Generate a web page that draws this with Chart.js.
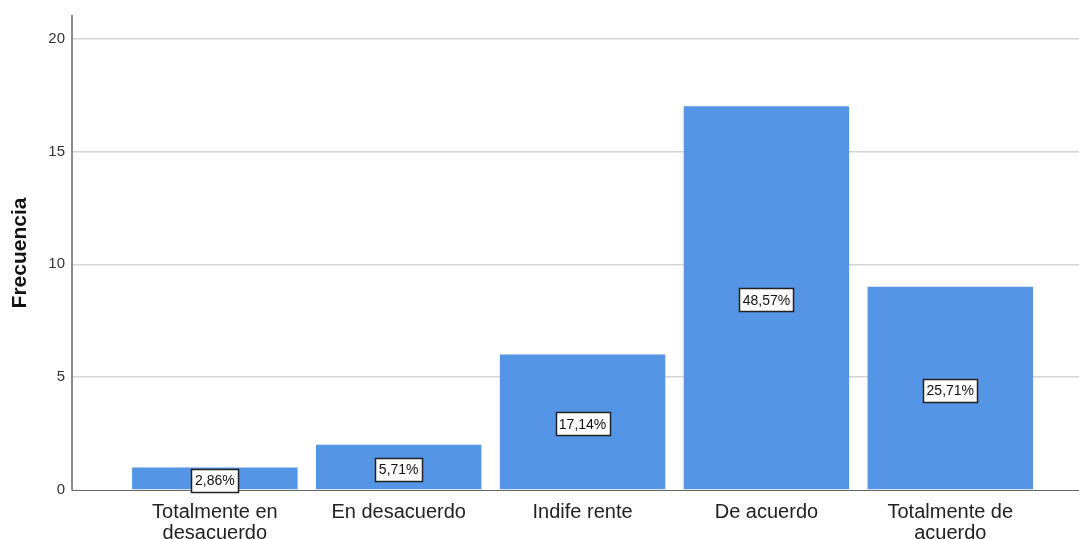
<!DOCTYPE html>
<html lang="es">
<head>
    <meta charset="UTF-8">
    <title>Frecuencia</title>
    <script src="https://cdn.jsdelivr.net/npm/chart.js"></script>
    <style>
        body { margin: 0; background: #fff; }
        .chart-box { width: 1079px; height: 539px; }
    </style>
</head>
<body>
    <div class="chart-box"><canvas id="barChart"></canvas></div>

    <script>
        // Datos
        const categorias = [['Totalmente en', 'desacuerdo'], 'En desacuerdo', 'Indife rente', 'De acuerdo', ['Totalmente de', 'acuerdo']];
        const frecuencias = [1, 2, 6, 17, 9];
        const porcentajes = ['2,86%', '5,71%', '17,14%', '48,57%', '25,71%'];
        const ticksY = [0, 5, 10, 15, 20];

        const fuente = 'Arial, "Liberation Sans", sans-serif';

        // Etiquetas de porcentaje dentro de las barras
        const etiquetasPlugin = {
            id: 'etiquetas',
            afterDatasetsDraw(chart) {
                const ctx = chart.ctx;
                const meta = chart.getDatasetMeta(0);
                ctx.save();
                ctx.font = '14px ' + fuente;
                ctx.textAlign = 'center';
                ctx.textBaseline = 'middle';
                meta.data.forEach((bar, i) => {
                    const txt = porcentajes[i];
                    const cx = bar.x;
                    const cy = (bar.y + bar.base) / 2 + 2;
                    const w = Math.round(ctx.measureText(txt).width + 7);
                    const h = 23;
                    const x0 = Math.round(cx - w / 2);
                    const y0 = Math.round(cy - h / 2);
                    ctx.fillStyle = '#ffffff';
                    ctx.fillRect(x0, y0, w, h);
                    ctx.strokeStyle = '#222222';
                    ctx.lineWidth = 1.5;
                    ctx.strokeRect(x0 + 0.5, y0 + 0.5, w, h);
                    ctx.fillStyle = '#111111';
                    ctx.fillText(txt, cx, cy + 1);
                });
                ctx.restore();
            }
        };

        const ctx = document.getElementById('barChart').getContext('2d');
        const chart = new Chart(ctx, {
            type: 'bar',
            data: {
                datasets: [{
                    data: frecuencias.map((v, i) => ({ x: i, y: v })),
                    backgroundColor: '#5595e5',
                    borderWidth: 0,
                    categoryPercentage: 1,
                    barPercentage: 0.9
                }]
            },
            options: {
                responsive: true,
                maintainAspectRatio: false,
                animation: false,
                layout: { padding: { top: 15, right: 0, left: 0, bottom: 0 } },
                plugins: {
                    legend: { display: false },
                    tooltip: { enabled: false }
                },
                scales: {
                    x: {
                        type: 'linear',
                        offset: false,
                        min: -0.777,
                        max: 4.7,
                        afterFit: s => { s.height = 49; },
                        grid: { display: false },
                        border: { display: true, color: '#666666', width: 1 },
                        ticks: {
                            stepSize: 1,
                            includeBounds: false,
                            autoSkip: false,
                            maxRotation: 0,
                            padding: 4,
                            color: '#222222',
                            font: { family: fuente, size: 20, lineHeight: 1.05 },
                            callback: v => (Number.isInteger(v) && v >= 0 && v < categorias.length) ? categorias[v] : ''
                        }
                    },
                    y: {
                        min: 0,
                        max: 21,
                        afterFit: s => { s.width = 72; },
                        afterBuildTicks: s => { s.ticks = ticksY.map(v => ({ value: v })).concat([{ value: 21 }]); },
                        grid: {
                            drawTicks: false,
                            color: c => (c.tick && ticksY.includes(c.tick.value) && c.tick.value !== 0) ? '#d4d4d4' : 'rgba(0,0,0,0)',
                            lineWidth: 1.5
                        },
                        border: { display: true, color: '#8c8c8c', width: 2 },
                        ticks: {
                            padding: 7,
                            color: '#333333',
                            font: { family: fuente, size: 15 },
                            callback: v => ticksY.includes(v) ? String(v) : ''
                        },
                        title: {
                            display: true,
                            text: 'Frecuencia',
                            color: '#111111',
                            padding: { top: 8, bottom: 0 },
                            font: { family: fuente, size: 21, weight: 'bold' }
                        }
                    }
                }
            },
            plugins: [etiquetasPlugin]
        });
    </script>
</body>
</html>
